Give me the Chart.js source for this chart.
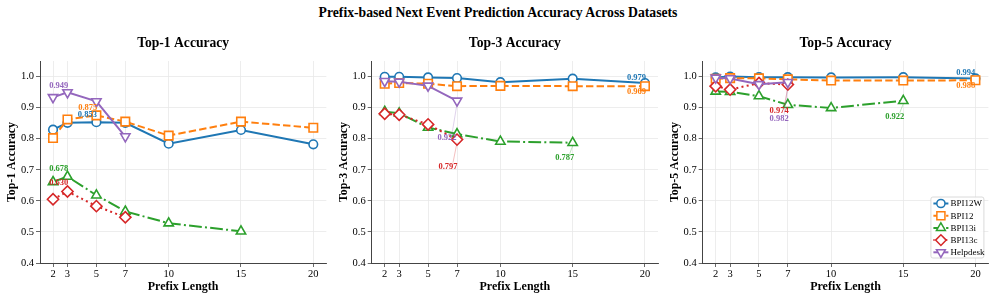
<!DOCTYPE html>
<html><head><meta charset="utf-8">
<script src="https://cdn.jsdelivr.net/npm/chart.js@4.4.0/dist/chart.umd.min.js"></script>
<style>
html,body{margin:0;padding:0;background:#fff;width:996px;height:300px;overflow:hidden;}
#title{position:absolute;left:0;top:4.5px;width:996px;text-align:center;font:bold 13.7px 'Liberation Serif','Times New Roman',serif;line-height:16px;color:#000;}
canvas{position:absolute;left:0;top:0;}
</style></head><body>
<div id="title">Prefix-based Next Event Prediction Accuracy Across Datasets</div>
<canvas id="c0" width="996" height="300"></canvas>
<canvas id="c1" width="996" height="300"></canvas>
<canvas id="c2" width="996" height="300"></canvas>
<script>
// ---------- DATA ----------
const prefixLengths = [2, 3, 5, 7, 10, 15, 20];
const seriesNames = ['BPI12W', 'BPI12', 'BPI13i', 'BPI13c', 'Helpdesk'];

const top1_BPI12W   = [0.829, 0.851, 0.853, 0.851, 0.784, 0.828, 0.782];
const top1_BPI12    = [0.802, 0.862, 0.875, 0.855, 0.810, 0.855, 0.835];
const top1_BPI13i   = [0.661, 0.678, 0.618, 0.566, 0.528, 0.502];
const top1_BPI13c   = [0.605, 0.630, 0.583, 0.547];
const top1_Helpdesk = [0.933, 0.949, 0.920, 0.807];

const top3_BPI12W   = [0.999, 0.999, 0.997, 0.995, 0.982, 0.993, 0.979];
const top3_BPI12    = [0.977, 0.979, 0.977, 0.969, 0.970, 0.969, 0.969];
const top3_BPI13i   = [0.887, 0.882, 0.836, 0.815, 0.791, 0.787];
const top3_BPI13c   = [0.880, 0.877, 0.846, 0.797];
const top3_Helpdesk = [0.985, 0.983, 0.970, 0.922];

const top5_BPI12W   = [0.997, 1.000, 0.998, 0.998, 0.997, 0.998, 0.994];
const top5_BPI12    = [0.993, 0.995, 0.994, 0.991, 0.987, 0.987, 0.988];
const top5_BPI13i   = [0.952, 0.951, 0.937, 0.909, 0.899, 0.922];
const top5_BPI13c   = [0.969, 0.958, 0.979, 0.974];
const top5_Helpdesk = [0.996, 0.994, 0.975, 0.982];

const xTicks = [2, 3, 5, 7, 10, 15, 20];
const yTicks = [0.4, 0.5, 0.6, 0.7, 0.8, 0.9, 1.0];
const panelTitles = ['Top-1 Accuracy', 'Top-3 Accuracy', 'Top-5 Accuracy'];
const yAxisTitles = ['Top-1 Accuracy', 'Top-3 Accuracy', 'Top-5 Accuracy'];
const xAxisTitle = 'Prefix Length';
const annotMode = ['max', 'last', 'last'];

// ---------- STYLE ----------
const FONT = "'Liberation Serif','Times New Roman',serif";
Chart.defaults.font.family = FONT;
Chart.defaults.color = '#000';
const colors = ['#1f77b4', '#ff7f0e', '#2ca02c', '#d62728', '#9467bd'];
const dashes = [[], [7.4, 3.2], [12.8, 3.2, 2, 3.2], [2, 3.3], []];
const pStyles = ['circle', 'rect', 'triangle', 'rectRot', 'triangle'];
const pRot = [0, 0, 0, 0, 180];
const pRad = [4.3, 6.0, 5.4, 5.6, 5.4];
const areaLeft = [40, 371.7, 702.7];
const areaRight = [326.3, 658, 989.7];
// label offsets [dx, dy, leader] per series, per panel
const labelOffsets = [
  [[-9, -7, 0], [-8.6, -8, 0], [-8.7, -7.7, 0], [-8.7, -8.7, 0], [-8.7, -6.7, 0]],
  [[-8.5, -5.6, 0], [-8.5, 6, 0], [-8, 15, 1], [-9, 27, 1], [-10, 37, 1]],
  [[-9.7, -5.6, 0], [-9.7, 5.5, 0], [-8.5, 16, 1], [-8.7, 26, 1], [-8.7, 37, 1]]
];

const panelData = [
  [top1_BPI12W, top1_BPI12, top1_BPI13i, top1_BPI13c, top1_Helpdesk],
  [top3_BPI12W, top3_BPI12, top3_BPI13i, top3_BPI13c, top3_Helpdesk],
  [top5_BPI12W, top5_BPI12, top5_BPI13i, top5_BPI13c, top5_Helpdesk]
];

const subtitlePlugin = {
  id: 'subtitle',
  afterDraw(chart, args, opts) {
    const {ctx, chartArea} = chart;
    ctx.save();
    ctx.font = 'bold 13.6px ' + FONT;
    ctx.fillStyle = '#000';
    ctx.textAlign = 'center';
    ctx.textBaseline = 'middle';
    ctx.fillText(opts.text, (chartArea.left + chartArea.right) / 2, chartArea.top - 17.5);
    ctx.restore();
  }
};

const annotPlugin = {
  id: 'annot',
  afterDatasetsDraw(chart, args, opts) {
    const {ctx} = chart;
    const xs = chart.scales.x, ys = chart.scales.y;
    ctx.save();
    ctx.font = 'bold 8.5px ' + FONT;
    ctx.textAlign = 'center';
    ctx.textBaseline = 'middle';
    opts.series.forEach((vals, si) => {
      let idx = vals.length - 1;
      if (opts.mode === 'max') {
        idx = 0;
        vals.forEach((v, i) => { if (v > vals[idx]) idx = i; });
      }
      const px = xs.getPixelForValue(prefixLengths[idx]);
      const py = ys.getPixelForValue(vals[idx]);
      const [dx, dy, leader] = opts.offsets[si];
      const lx = px + dx, ly = py + dy;
      if (leader) {
        ctx.strokeStyle = colors[si];
        ctx.globalAlpha = 0.5;
        ctx.lineWidth = 0.6;
        ctx.beginPath();
        ctx.moveTo(lx + 5, ly - 4);
        ctx.lineTo(px, py + 3);
        ctx.stroke();
        ctx.globalAlpha = 1;
      }
      ctx.fillStyle = colors[si];
      ctx.fillText(vals[idx].toFixed(3), lx, ly);
    });
    ctx.restore();
  }
};

const legendPlugin = {
  id: 'customLegend',
  afterDraw(chart, args, opts) {
    if (!opts.show) return;
    const {ctx, chartArea} = chart;
    const right = chartArea.right - 4.5, bottom = chartArea.bottom - 5;
    const w = 53, h = 61;
    const left = right - w, top = bottom - h;
    ctx.save();
    ctx.fillStyle = 'rgba(255,255,255,0.85)';
    ctx.strokeStyle = '#d0d0d0';
    ctx.lineWidth = 0.8;
    ctx.beginPath();
    ctx.roundRect(left, top, w, h, 2);
    ctx.fill();
    ctx.stroke();
    seriesNames.forEach((name, i) => {
      const cy = top + 6.5 + i * 12.2;
      ctx.strokeStyle = colors[i];
      ctx.lineWidth = 2;
      ctx.setLineDash(dashes[i].map(d => d * 0.6));
      ctx.beginPath();
      ctx.moveTo(left + 2.5, cy);
      ctx.lineTo(left + 17.5, cy);
      ctx.stroke();
      ctx.setLineDash([]);
      ctx.fillStyle = '#fff';
      ctx.lineWidth = 1.5;
      Chart.helpers.drawPoint(ctx, {pointStyle: pStyles[i], rotation: pRot[i], radius: pRad[i] * 0.95, borderWidth: 1.5}, left + 10, cy);
      ctx.fillStyle = '#000';
      ctx.font = '9px ' + FONT;
      ctx.textAlign = 'left';
      ctx.textBaseline = 'middle';
      ctx.fillText(name, left + 19.5, cy + 0.5);
    });
    ctx.restore();
  }
};

function makeChart(p) {
  const datasets = seriesNames.map((name, i) => ({
    label: name,
    data: panelData[p][i].map((v, k) => ({x: prefixLengths[k], y: v})),
    borderColor: colors[i],
    backgroundColor: '#fff',
    borderWidth: 2,
    borderDash: dashes[i],
    pointStyle: pStyles[i],
    rotation: pRot[i],
    pointRadius: pRad[i],
    pointBorderWidth: 1.6,
    pointBackgroundColor: '#fff',
    pointBorderColor: colors[i],
    tension: 0,
    fill: false,
    order: 5 - i
  }));
  new Chart(document.getElementById('c' + p), {
    type: 'line',
    data: {datasets},
    plugins: [subtitlePlugin, annotPlugin, legendPlugin],
    options: {
      responsive: false,
      animation: false,
      devicePixelRatio: 1,
      layout: {padding: {left: areaLeft[p] - 40, right: 996 - areaRight[p], top: 61, bottom: 0}},
      plugins: {
        legend: {display: false},
        tooltip: {enabled: false},
        subtitle: {text: panelTitles[p]},
        annot: {series: panelData[p], mode: annotMode[p], offsets: labelOffsets[p]},
        customLegend: {show: p === 2}
      },
      scales: {
        x: {
          type: 'linear', min: 1.1, max: 20.9,
          afterBuildTicks: s => { s.ticks = xTicks.map(v => ({value: v})); },
          afterFit: s => { s.height = 37; },
          ticks: {font: {size: 10.5}, color: '#000', padding: 1, maxRotation: 0, autoSkip: false, callback: v => String(v)},
          grid: {color: '#e8e8e8', lineWidth: 0.8, tickColor: '#444', tickLength: 4, tickWidth: 0.8},
          border: {display: true, color: '#444', width: 1},
          title: {display: true, text: xAxisTitle, font: {size: 12, weight: 'bold'}, color: '#000', padding: {top: 0, bottom: 6}}
        },
        y: {
          type: 'linear', min: 0.4, max: 1.05,
          afterBuildTicks: s => { s.ticks = yTicks.map(v => ({value: v})); },
          afterFit: s => { s.width = 40; },
          ticks: {font: {size: 10.5}, color: '#000', padding: 2, callback: v => Number(v).toFixed(1)},
          grid: {color: '#e8e8e8', lineWidth: 0.8, tickColor: '#444', tickLength: 4, tickWidth: 0.8},
          border: {display: true, color: '#444', width: 1},
          title: {display: true, text: yAxisTitles[p], font: {size: 11.8, weight: 'bold'}, color: '#000', padding: {top: 5, bottom: 0}}
        }
      }
    }
  });
}
[0, 1, 2].forEach(makeChart);
</script>
</body></html>
